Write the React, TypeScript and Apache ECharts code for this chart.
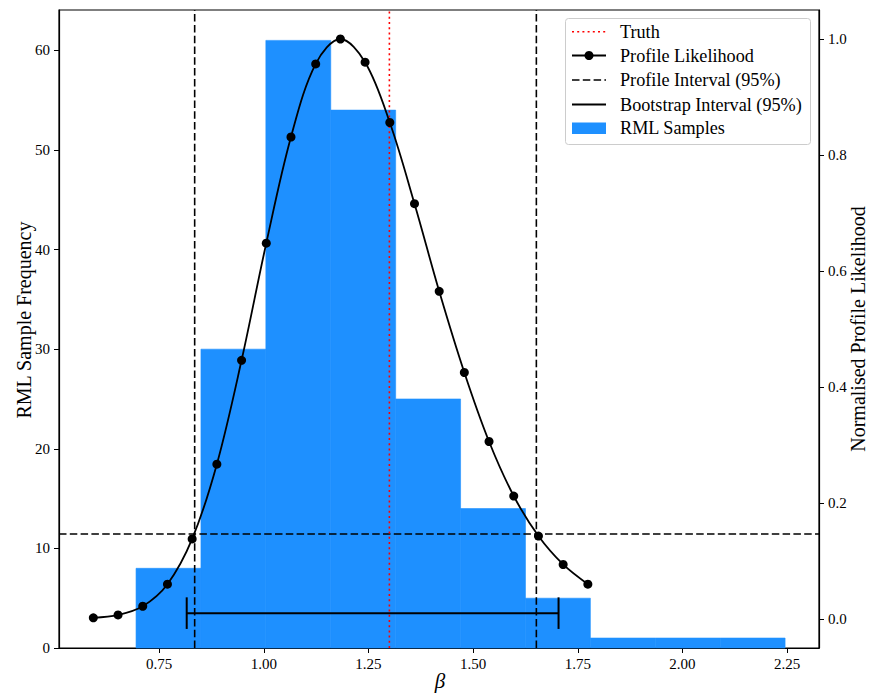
import React, { useEffect, useRef } from "react";
import * as echarts from "echarts";

// Histogram of RML estimates of beta (200 samples, 10 equal bins)
const binEdges = [0.695, 0.85, 1.005, 1.16, 1.315, 1.47, 1.625, 1.78, 1.935, 2.09, 2.245];
const binCounts = [8, 30, 61, 54, 25, 14, 5, 1, 1, 1];

// Profile likelihood evaluated on a grid of beta values (normalised to max 1)
const betaGrid = [
  0.593, 0.652, 0.711, 0.77, 0.829, 0.888, 0.947, 1.006, 1.065, 1.124, 1.183,
  1.242, 1.301, 1.36, 1.419, 1.479, 1.538, 1.597, 1.656, 1.715, 1.774,
];
const profileLik = [
  0.002, 0.007, 0.022, 0.06, 0.138, 0.267, 0.446, 0.648, 0.831, 0.957, 1.0,
  0.96, 0.856, 0.716, 0.565, 0.425, 0.306, 0.212, 0.143, 0.094, 0.06,
];

// Reference values
const truthBeta = 1.3;
const profileInterval = [0.835, 1.651];
const likThreshold = 0.1465;
const bootstrapInterval = [0.816, 1.704];
const bootstrapLevel = 3.5;

// Axis ranges and ticks
const xRange = [0.511, 2.326];
const xTicks = [0.75, 1.0, 1.25, 1.5, 1.75, 2.0, 2.25];
const freqRange = [0, 64.05];
const freqTicks = [0, 10, 20, 30, 40, 50, 60];
const likRange = [-0.05, 1.05];
const likTicks = [0, 0.2, 0.4, 0.6, 0.8, 1.0];

const FONT = "'Liberation Serif', 'DejaVu Serif', serif";
const BLUE = "#1E90FF";
const DASH = [7.5, 3.3];
const DOT = [2, 3.2];

export default function App() {
  const ref = useRef<HTMLDivElement>(null);

  useEffect(() => {
    if (!ref.current) return;
    const chart = echarts.init(ref.current, undefined, { renderer: "svg" });

    const axisCommon = {
      axisLine: { show: true, lineStyle: { color: "#000", width: 1.2 } },
      splitLine: { show: false },
    };

    const histData = binCounts.map((c, i) => [binEdges[i], binEdges[i + 1], c]);
    const curveData = betaGrid.map((b, i) => [b, profileLik[i]]);

    const legendX = 565.5;
    const legendY = 18.5;
    const rowY = [31.7, 55.5, 80, 104.5, 128.3];
    const hx1 = 572;
    const hx2 = 606;
    const tx = 620;
    const legendLabels = [
      "Truth",
      "Profile Likelihood",
      "Profile Interval (95%)",
      "Bootstrap Interval (95%)",
      "RML Samples",
    ];

    const option: any = {
      animation: false,
      backgroundColor: "#fff",
      grid: {
        left: 59,
        right: 51,
        top: 10,
        bottom: 45,
        show: true,
        borderColor: "#000",
        borderWidth: 1.2,
        backgroundColor: "transparent",
      },
      xAxis: {
        type: "value",
        min: xRange[0],
        max: xRange[1],
        ...axisCommon,
        axisTick: {
          show: true,
          length: 5,
          customValues: xTicks,
          lineStyle: { color: "#000", width: 1 },
        },
        axisLabel: {
          customValues: xTicks,
          formatter: (v: number) => v.toFixed(2),
          color: "#000",
          fontFamily: FONT,
          fontSize: 15,
          margin: 8,
        },
      },
      yAxis: [
        {
          type: "value",
          position: "left",
          min: freqRange[0],
          max: freqRange[1],
          ...axisCommon,
          axisTick: {
            show: true,
            length: 5,
            customValues: freqTicks,
            lineStyle: { color: "#000", width: 1 },
          },
          axisLabel: {
            customValues: freqTicks,
            formatter: (v: number) => String(v),
            color: "#000",
            fontFamily: FONT,
            fontSize: 15,
            margin: 9,
          },
        },
        {
          type: "value",
          position: "right",
          min: likRange[0],
          max: likRange[1],
          ...axisCommon,
          axisTick: {
            show: true,
            length: 5,
            customValues: likTicks,
            lineStyle: { color: "#000", width: 1 },
          },
          axisLabel: {
            customValues: likTicks,
            formatter: (v: number) => v.toFixed(1),
            color: "#000",
            fontFamily: FONT,
            fontSize: 15,
            margin: 9,
          },
        },
      ],
      series: [
        {
          name: "RML Samples",
          type: "custom",
          xAxisIndex: 0,
          yAxisIndex: 0,
          z: 1,
          encode: { x: [0, 1], y: 2 },
          data: histData,
          renderItem: (_params: any, api: any) => {
            const p0 = api.coord([api.value(0), api.value(2)]);
            const p1 = api.coord([api.value(1), 0]);
            return {
              type: "rect",
              shape: { x: p0[0], y: p0[1], width: p1[0] - p0[0], height: p1[1] - p0[1] },
              style: { fill: BLUE, stroke: BLUE, lineWidth: 0.6 },
            };
          },
        },
        ...profileInterval.map((b) => ({
          type: "line",
          xAxisIndex: 0,
          yAxisIndex: 0,
          z: 3,
          symbol: "none",
          data: [
            [b, freqRange[0]],
            [b, freqRange[1]],
          ],
          lineStyle: { color: "#000", width: 1.6, type: DASH },
        })),
        {
          type: "line",
          xAxisIndex: 0,
          yAxisIndex: 1,
          z: 3,
          symbol: "none",
          data: [
            [xRange[0], likThreshold],
            [xRange[1], likThreshold],
          ],
          lineStyle: { color: "#000", width: 1.6, type: DASH },
        },
        {
          name: "Truth",
          type: "line",
          xAxisIndex: 0,
          yAxisIndex: 0,
          z: 3,
          symbol: "none",
          data: [
            [truthBeta, freqRange[0]],
            [truthBeta, freqRange[1]],
          ],
          lineStyle: { color: "#ff0000", width: 1.6, type: DOT },
        },
        {
          name: "Bootstrap Interval (95%)",
          type: "custom",
          xAxisIndex: 0,
          yAxisIndex: 0,
          z: 4,
          encode: { x: [0, 1], y: 2 },
          data: [[bootstrapInterval[0], bootstrapInterval[1], bootstrapLevel]],
          renderItem: (_params: any, api: any) => {
            const a = api.coord([api.value(0), api.value(2)]);
            const b = api.coord([api.value(1), api.value(2)]);
            const cap = 15.8;
            const st = { stroke: "#000", lineWidth: 2 };
            return {
              type: "group",
              children: [
                { type: "line", shape: { x1: a[0], y1: a[1], x2: b[0], y2: b[1] }, style: st },
                { type: "line", shape: { x1: a[0], y1: a[1] - cap, x2: a[0], y2: a[1] + cap }, style: st },
                { type: "line", shape: { x1: b[0], y1: b[1] - cap, x2: b[0], y2: b[1] + cap }, style: st },
              ],
            };
          },
        },
        {
          name: "Profile Likelihood",
          type: "line",
          xAxisIndex: 0,
          yAxisIndex: 1,
          z: 5,
          smooth: 0.35,
          symbol: "circle",
          symbolSize: 9,
          showAllSymbol: true,
          data: curveData,
          itemStyle: { color: "#000", borderWidth: 0 },
          lineStyle: { color: "#000", width: 1.8 },
        },
      ],
      graphic: [
        {
          type: "text",
          x: 24,
          y: 320,
          rotation: Math.PI / 2,
          style: {
            text: "RML Sample Frequency",
            font: `20px ${FONT}`,
            fill: "#000",
            align: "center",
            verticalAlign: "middle",
          },
        },
        {
          type: "text",
          x: 858,
          y: 329,
          rotation: Math.PI / 2,
          style: {
            text: "Normalised Profile Likelihood",
            font: `20px ${FONT}`,
            fill: "#000",
            align: "center",
            verticalAlign: "middle",
          },
        },
        {
          type: "text",
          x: 440,
          y: 681,
          style: {
            text: "β",
            font: `italic 21px ${FONT}`,
            fill: "#000",
            align: "center",
            verticalAlign: "middle",
          },
        },
        {
          type: "rect",
          z: 100,
          shape: { x: legendX, y: legendY, width: 245, height: 126, r: 3 },
          style: { fill: "rgba(255,255,255,0.85)", stroke: "#cccccc", lineWidth: 1 },
        },
        {
          type: "line",
          z: 101,
          shape: { x1: hx1, y1: rowY[0], x2: hx2, y2: rowY[0] },
          style: { stroke: "#ff0000", lineWidth: 1.6, lineDash: DOT },
        },
        {
          type: "line",
          z: 101,
          shape: { x1: hx1, y1: rowY[1], x2: hx2, y2: rowY[1] },
          style: { stroke: "#000", lineWidth: 1.8 },
        },
        {
          type: "circle",
          z: 102,
          shape: { cx: (hx1 + hx2) / 2, cy: rowY[1], r: 4.5 },
          style: { fill: "#000" },
        },
        {
          type: "line",
          z: 101,
          shape: { x1: hx1, y1: rowY[2], x2: hx2, y2: rowY[2] },
          style: { stroke: "#000", lineWidth: 1.6, lineDash: DASH },
        },
        {
          type: "line",
          z: 101,
          shape: { x1: hx1, y1: rowY[3], x2: hx2, y2: rowY[3] },
          style: { stroke: "#000", lineWidth: 1.8 },
        },
        {
          type: "rect",
          z: 101,
          shape: { x: hx1, y: rowY[4] - 5.7, width: hx2 - hx1, height: 11.4 },
          style: { fill: BLUE },
        },
        ...legendLabels.map((t, i) => ({
          type: "text",
          z: 101,
          x: tx,
          y: rowY[i],
          style: {
            text: t,
            font: `18.2px ${FONT}`,
            fill: "#000",
            align: "left",
            verticalAlign: "middle",
          },
        })),
      ],
    };

    chart.setOption(option);
    return () => chart.dispose();
  }, []);

  return (
    <div
      ref={ref}
      style={{ position: "fixed", left: 0, top: 0, width: 870, height: 693, background: "#fff" }}
    />
  );
}
